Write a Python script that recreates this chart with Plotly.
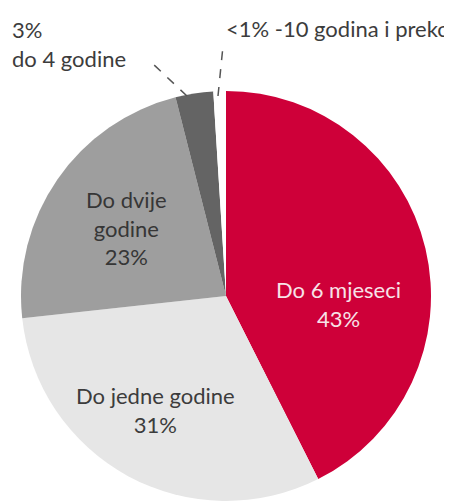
import plotly.graph_objects as go

# Data
categories = ["Do 6 mjeseci", "Do jedne godine", "Do dvije godine", "do 4 godine", "10 godina i preko"]
values = [43, 31, 23, 3, 1]
pct_labels = ["43%", "31%", "23%", "3%", "<1%"]
colors = ["#CE0039", "#E6E6E6", "#9E9E9E", "#646464", "#FFFFFF"]

# page body has an 8px default margin; figure is sized so it fits the window
OFF = 8
W, H = 452 - OFF, 502 - OFF
FONT = "Lato"
FS = 22


def px(x):
    return (x - OFF) / W


def py(y):
    return 1 - (y - OFF) / H


fig = go.Figure(go.Pie(
    labels=categories,
    values=values,
    sort=False,
    direction="clockwise",
    rotation=0,
    marker=dict(colors=colors, line=dict(width=0)),
    textinfo="none",
    hoverinfo="label+percent",
    domain=dict(x=[px(21), px(431)], y=[max(0, py(501)), py(91)]),
    showlegend=False,
))

ann = [
    (338, 304, "Do 6 mjeseci<br>" + pct_labels[0], "#F7E3E8", "center"),
    (155, 410, "Do jedne godine<br>" + pct_labels[1], "#3C3C3C", "center"),
    (126, 228, "Do dvije<br>godine<br>" + pct_labels[2], "#363636", "center"),
    (10, 44, pct_labels[3] + "<br>" + categories[3], "#3C3C3C", "left"),
    (224, 28, pct_labels[4] + " -" + categories[4], "#3C3C3C", "left"),
]
annotations = []
for x, y, t, c, al in ann:
    annotations.append(dict(
        x=px(x), y=py(y), xref="paper", yref="paper", text=t, showarrow=False,
        xanchor="left" if al == "left" else "center", yanchor="middle", align=al,
        font=dict(family=FONT, size=FS, color=c),
    ))

shapes = [
    dict(type="line", xref="paper", yref="paper", x0=px(187), y0=py(96), x1=px(153), y1=py(64),
         line=dict(color="#555555", width=1.5, dash="dash")),
    dict(type="line", xref="paper", yref="paper", x0=px(218), y0=py(96), x1=px(223), y1=py(46),
         line=dict(color="#555555", width=1.5, dash="dash")),
]

fig.update_layout(
    width=W, height=H,
    margin=dict(l=0, r=0, t=0, b=0),
    paper_bgcolor="white", plot_bgcolor="white",
    annotations=annotations, shapes=shapes,
    font=dict(family=FONT),
)

fig.write_html("out.html")
